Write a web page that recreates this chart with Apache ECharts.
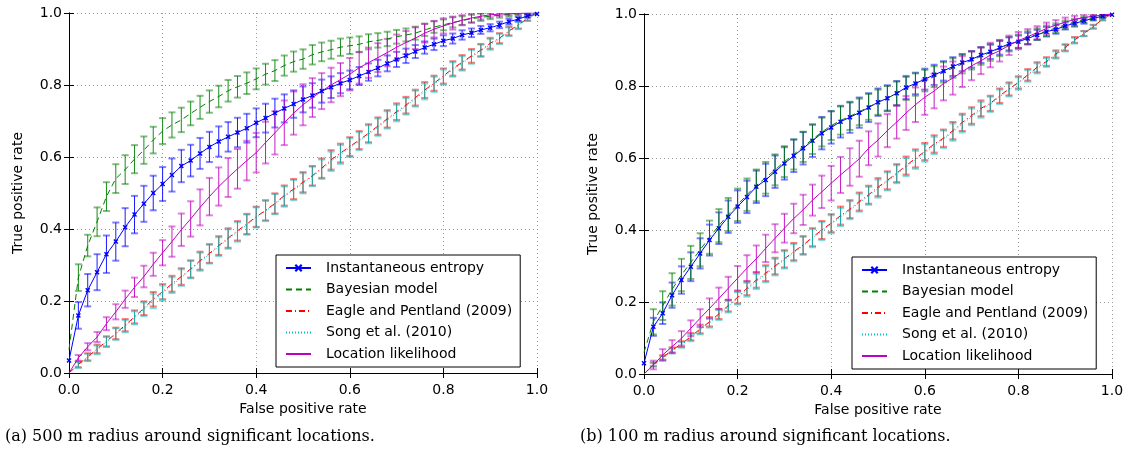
<!DOCTYPE html>
<html>
<head>
<meta charset="utf-8">
<script src="https://cdn.jsdelivr.net/npm/echarts@6/dist/echarts.min.js"></script>
<style>
  html, body { margin: 0; padding: 0; background: #fff; }
  #chart { width: 1133px; height: 454px; }
</style>
</head>
<body>
<div id="chart"></div>
<script>
// false positive rate, one point every 0.02
const fpr = [0, 0.02, 0.04, 0.06, 0.08, 0.1, 0.12, 0.14, 0.16, 0.18, 0.2, 0.22, 0.24, 0.26, 0.28, 0.3, 0.32, 0.34, 0.36, 0.38,
  0.4, 0.42, 0.44, 0.46, 0.48, 0.5, 0.52, 0.54, 0.56, 0.58, 0.6, 0.62, 0.64, 0.66, 0.68, 0.7, 0.72, 0.74, 0.76, 0.78,
  0.8, 0.82, 0.84, 0.86, 0.88, 0.9, 0.92, 0.94, 0.96, 0.98, 1.0]
const tickLabels = ['0.0', '0.2', '0.4', '0.6', '0.8', '1.0']
const names = ['Instantaneous entropy', 'Bayesian model', 'Eagle and Pentland (2009)', 'Song et al. (2010)', 'Location likelihood']
const captions = ['(a) 500 m radius around significant locations.', '(b) 100 m radius around significant locations.']

// (a) 500 m
const entropyA = [0.035, 0.16, 0.23, 0.28, 0.33, 0.365, 0.405, 0.44, 0.47, 0.5, 0.525, 0.55, 0.575, 0.59, 0.61, 0.628, 0.643, 0.656, 0.668, 0.68,
  0.695, 0.708, 0.722, 0.735, 0.747, 0.76, 0.771, 0.783, 0.794, 0.805, 0.814, 0.825, 0.836, 0.847, 0.86, 0.871, 0.881, 0.893, 0.904, 0.913,
  0.923, 0.929, 0.939, 0.945, 0.953, 0.959, 0.967, 0.976, 0.983, 0.992, 0.997]
const entropyErrA = [0, 0.037, 0.045, 0.05, 0.052, 0.053, 0.053, 0.052, 0.05, 0.048, 0.047, 0.046, 0.045, 0.044, 0.043, 0.042, 0.042, 0.041, 0.041, 0.04,
  0.04, 0.04, 0.04, 0.039, 0.038, 0.036, 0.034, 0.032, 0.03, 0.028, 0.026, 0.025, 0.024, 0.023, 0.022, 0.021, 0.02, 0.018, 0.017, 0.016,
  0.015, 0.014, 0.013, 0.012, 0.011, 0.01, 0.009, 0.008, 0.006, 0.005, 0]
const bayesA = [0.065, 0.265, 0.354, 0.42, 0.49, 0.54, 0.565, 0.594, 0.619, 0.647, 0.672, 0.689, 0.703, 0.721, 0.738, 0.754, 0.768, 0.784, 0.795, 0.805,
  0.817, 0.83, 0.84, 0.854, 0.865, 0.872, 0.884, 0.892, 0.898, 0.905, 0.909, 0.913, 0.92, 0.924, 0.928, 0.934, 0.939, 0.944, 0.953, 0.961,
  0.967, 0.974, 0.979, 0.984, 0.988, 0.991, 0.994, 0.996, 0.998, 0.999, 1.0]
const bayesErrA = [0, 0.037, 0.03, 0.04, 0.04, 0.04, 0.04, 0.039, 0.038, 0.037, 0.036, 0.035, 0.034, 0.033, 0.032, 0.031, 0.03, 0.03, 0.03, 0.03,
  0.029, 0.029, 0.029, 0.028, 0.028, 0.027, 0.027, 0.026, 0.025, 0.024, 0.023, 0.022, 0.021, 0.02, 0.02, 0.019, 0.018, 0.018, 0.017, 0.016,
  0.015, 0.014, 0.012, 0.011, 0.01, 0.008, 0.007, 0.006, 0.005, 0.004, 0]
const eagleA = [0, 0.024, 0.045, 0.067, 0.088, 0.11, 0.133, 0.156, 0.18, 0.205, 0.226, 0.248, 0.268, 0.289, 0.312, 0.332, 0.354, 0.375, 0.395, 0.414,
  0.434, 0.452, 0.471, 0.493, 0.511, 0.53, 0.548, 0.569, 0.592, 0.611, 0.629, 0.647, 0.666, 0.686, 0.706, 0.726, 0.744, 0.765, 0.786, 0.805,
  0.825, 0.846, 0.863, 0.881, 0.897, 0.916, 0.93, 0.95, 0.967, 0.985, 1.0]
const songA = [0, 0.022, 0.043, 0.064, 0.086, 0.108, 0.13, 0.153, 0.177, 0.2, 0.222, 0.244, 0.265, 0.287, 0.309, 0.33, 0.351, 0.372, 0.392, 0.412,
  0.432, 0.45, 0.469, 0.49, 0.508, 0.527, 0.546, 0.566, 0.588, 0.607, 0.626, 0.644, 0.663, 0.683, 0.703, 0.722, 0.741, 0.762, 0.782, 0.802,
  0.822, 0.843, 0.86, 0.878, 0.895, 0.913, 0.928, 0.948, 0.965, 0.984, 1.0]
const baselineErrA = [0, 0.008, 0.01, 0.012, 0.014, 0.016, 0.017, 0.018, 0.019, 0.02, 0.021, 0.022, 0.023, 0.024, 0.025, 0.026, 0.026, 0.027, 0.027, 0.028,
  0.028, 0.028, 0.028, 0.028, 0.028, 0.028, 0.027, 0.027, 0.027, 0.026, 0.026, 0.025, 0.025, 0.024, 0.024, 0.023, 0.023, 0.022, 0.022, 0.021,
  0.021, 0.02, 0.02, 0.019, 0.017, 0.015, 0.014, 0.012, 0.01, 0.006, 0]
const likelihoodA = [0, 0.042, 0.073, 0.1, 0.137, 0.17, 0.205, 0.238, 0.268, 0.302, 0.334, 0.365, 0.398, 0.428, 0.46, 0.49, 0.518, 0.543, 0.567, 0.59,
  0.612, 0.64, 0.667, 0.695, 0.722, 0.745, 0.765, 0.783, 0.8, 0.815, 0.83, 0.848, 0.862, 0.876, 0.89, 0.905, 0.918, 0.93, 0.944, 0.955,
  0.964, 0.972, 0.98, 0.986, 0.991, 0.995, 0.997, 0.998, 0.999, 1.0, 1.0]
const likelihoodErrA = [0, 0.008, 0.01, 0.014, 0.018, 0.021, 0.024, 0.027, 0.03, 0.032, 0.035, 0.042, 0.045, 0.049, 0.05, 0.052, 0.053, 0.054, 0.055, 0.055,
  0.055, 0.058, 0.06, 0.062, 0.06, 0.057, 0.054, 0.05, 0.048, 0.046, 0.045, 0.044, 0.042, 0.04, 0.038, 0.035, 0.032, 0.03, 0.026, 0.023,
  0.021, 0.018, 0.014, 0.012, 0.009, 0.007, 0.005, 0.004, 0.003, 0.002, 0]

// (b) 100 m
const entropyB = [0.03, 0.131, 0.169, 0.219, 0.261, 0.298, 0.335, 0.372, 0.405, 0.437, 0.465, 0.492, 0.52, 0.539, 0.562, 0.585, 0.606, 0.627, 0.648, 0.669,
  0.685, 0.701, 0.713, 0.726, 0.74, 0.755, 0.766, 0.78, 0.796, 0.807, 0.819, 0.831, 0.842, 0.854, 0.865, 0.874, 0.886, 0.895, 0.906, 0.917,
  0.923, 0.932, 0.942, 0.951, 0.957, 0.967, 0.974, 0.981, 0.988, 0.994, 0.998]
const entropyErrB = [0, 0.025, 0.03, 0.035, 0.038, 0.04, 0.042, 0.043, 0.044, 0.045, 0.045, 0.045, 0.045, 0.045, 0.045, 0.045, 0.045, 0.045, 0.045, 0.045,
  0.045, 0.044, 0.043, 0.042, 0.04, 0.038, 0.036, 0.034, 0.032, 0.03, 0.029, 0.028, 0.027, 0.026, 0.024, 0.023, 0.022, 0.02, 0.019, 0.018,
  0.017, 0.016, 0.014, 0.013, 0.012, 0.01, 0.009, 0.008, 0.006, 0.004, 0]
const bayesB = [0.06, 0.145, 0.19, 0.235, 0.275, 0.31, 0.345, 0.38, 0.412, 0.443, 0.47, 0.498, 0.524, 0.545, 0.567, 0.59, 0.61, 0.631, 0.652, 0.672,
  0.69, 0.704, 0.716, 0.728, 0.742, 0.755, 0.766, 0.779, 0.793, 0.804, 0.815, 0.826, 0.838, 0.85, 0.861, 0.871, 0.883, 0.893, 0.905, 0.916,
  0.924, 0.934, 0.944, 0.953, 0.961, 0.97, 0.977, 0.984, 0.99, 0.995, 0.998]
const bayesErrB = [0, 0.035, 0.04, 0.045, 0.045, 0.046, 0.046, 0.046, 0.046, 0.046, 0.045, 0.045, 0.044, 0.044, 0.043, 0.043, 0.042, 0.042, 0.041, 0.04,
  0.04, 0.039, 0.038, 0.037, 0.036, 0.035, 0.034, 0.033, 0.032, 0.031, 0.03, 0.029, 0.028, 0.027, 0.026, 0.025, 0.024, 0.023, 0.022, 0.02,
  0.019, 0.018, 0.016, 0.015, 0.013, 0.012, 0.01, 0.008, 0.006, 0.004, 0]
const eagleB = [0, 0.027, 0.046, 0.067, 0.083, 0.104, 0.125, 0.145, 0.167, 0.19, 0.213, 0.238, 0.261, 0.28, 0.3, 0.32, 0.34, 0.358, 0.38, 0.4,
  0.419, 0.44, 0.458, 0.479, 0.498, 0.519, 0.538, 0.558, 0.579, 0.599, 0.618, 0.639, 0.655, 0.676, 0.699, 0.718, 0.738, 0.752, 0.773, 0.792,
  0.81, 0.831, 0.852, 0.868, 0.889, 0.907, 0.928, 0.946, 0.965, 0.986, 1.0]
const songB = [0, 0.025, 0.044, 0.064, 0.081, 0.101, 0.122, 0.142, 0.164, 0.187, 0.21, 0.234, 0.257, 0.277, 0.297, 0.317, 0.337, 0.356, 0.377, 0.397,
  0.416, 0.436, 0.455, 0.476, 0.495, 0.515, 0.535, 0.555, 0.575, 0.595, 0.614, 0.635, 0.652, 0.672, 0.695, 0.714, 0.734, 0.749, 0.77, 0.789,
  0.807, 0.828, 0.849, 0.865, 0.886, 0.905, 0.926, 0.945, 0.964, 0.985, 1.0]
const baselineErrB = [0, 0.005, 0.006, 0.007, 0.008, 0.01, 0.012, 0.013, 0.014, 0.016, 0.017, 0.019, 0.021, 0.022, 0.023, 0.024, 0.024, 0.025, 0.025, 0.025,
  0.025, 0.025, 0.025, 0.025, 0.025, 0.025, 0.025, 0.025, 0.025, 0.025, 0.024, 0.024, 0.024, 0.024, 0.024, 0.023, 0.022, 0.021, 0.02, 0.018,
  0.017, 0.016, 0.014, 0.012, 0.01, 0.009, 0.008, 0.007, 0.005, 0.003, 0]
const likelihoodB = [0, 0.025, 0.053, 0.076, 0.099, 0.127, 0.155, 0.182, 0.21, 0.238, 0.266, 0.294, 0.32, 0.349, 0.377, 0.405, 0.432, 0.456, 0.483, 0.506,
  0.53, 0.553, 0.575, 0.598, 0.627, 0.65, 0.676, 0.7, 0.725, 0.748, 0.769, 0.786, 0.807, 0.822, 0.84, 0.856, 0.87, 0.886, 0.898, 0.913,
  0.926, 0.937, 0.948, 0.96, 0.969, 0.977, 0.985, 0.99, 0.994, 0.997, 1.0]
const likelihoodErrB = [0, 0.012, 0.016, 0.018, 0.02, 0.022, 0.025, 0.028, 0.03, 0.032, 0.034, 0.036, 0.037, 0.038, 0.039, 0.04, 0.041, 0.042, 0.043, 0.045,
  0.048, 0.05, 0.052, 0.05, 0.047, 0.046, 0.046, 0.046, 0.047, 0.048, 0.049, 0.048, 0.047, 0.046, 0.043, 0.04, 0.037, 0.034, 0.03, 0.027,
  0.024, 0.021, 0.018, 0.016, 0.014, 0.013, 0.01, 0.007, 0.005, 0.003, 0]

const colors = ['#0000ff', '#008000', '#ff0000', '#00bfbf', '#bf00bf']
const dashes = ['solid', [6, 4], [6, 3, 1, 3], [1, 2], 'solid']
const xMark = 'path://M0,2L2,0L5,3L8,0L10,2L7,5L10,8L8,10L5,7L2,10L0,8L3,5Z'
const font = 'DejaVu Sans'

const panels = [
  {vals: [entropyA, bayesA, eagleA, songA, likelihoodA], errs: [entropyErrA, bayesErrA, baselineErrA, baselineErrA, likelihoodErrA]},
  {vals: [entropyB, bayesB, eagleB, songB, likelihoodB], errs: [entropyErrB, bayesErrB, baselineErrB, baselineErrB, likelihoodErrB]}
]

function renderErr(params, api) {
  const x = api.value(0)
  const lo = api.coord([x, api.value(1)])
  const hi = api.coord([x, api.value(2)])
  const c = api.visual('color')
  const w = 3.5
  return {
    type: 'group',
    children: [
      {type: 'line', shape: {x1: lo[0], y1: lo[1], x2: hi[0], y2: hi[1]}, style: {stroke: c, lineWidth: 1, opacity: 0.9}},
      {type: 'line', shape: {x1: lo[0] - w, y1: lo[1], x2: lo[0] + w, y2: lo[1]}, style: {stroke: c, lineWidth: 2, opacity: 0.5}},
      {type: 'line', shape: {x1: hi[0] - w, y1: hi[1], x2: hi[0] + w, y2: hi[1]}, style: {stroke: c, lineWidth: 2, opacity: 0.5}}
    ]
  }
}

const grids = [
  {left: 69, top: 13, width: 468, height: 360},
  {left: 644, top: 14, width: 468, height: 360}
]

let xAxes = []
let yAxes = []
let series = []
let graphics = []

const axisBase = {
  type: 'value', min: 0, max: 1, interval: 0.2,
  axisLine: {show: true, lineStyle: {color: '#000', width: 1}},
  axisTick: {show: true, inside: true, length: 5, lineStyle: {color: '#000'}},
}

for (let g = 0; g < 2; g++) {
  xAxes.push(Object.assign({}, axisBase, {
    gridIndex: g, position: 'bottom',
    name: 'False positive rate', nameLocation: 'middle', nameGap: 29,
    nameTextStyle: {fontFamily: font, fontSize: 14, color: '#000'},
    axisLabel: {margin: 10, fontFamily: font, fontSize: 14, color: '#000', formatter: (v) => tickLabels[Math.round(v * 5)]},
    splitLine: {show: true, lineStyle: {color: '#999', type: [1, 3]}}
  }))
  xAxes.push(Object.assign({}, axisBase, {gridIndex: g, position: 'top', axisLabel: {show: false}, splitLine: {show: false}}))
  yAxes.push(Object.assign({}, axisBase, {
    gridIndex: g, position: 'left',
    name: 'True positive rate', nameLocation: 'middle', nameGap: 44,
    nameTextStyle: {fontFamily: font, fontSize: 14, color: '#000'},
    axisLabel: {margin: 7, fontFamily: font, fontSize: 14, color: '#000', formatter: (v) => tickLabels[Math.round(v * 5)]},
    splitLine: {show: true, lineStyle: {color: '#999', type: [1, 3]}}
  }))
  yAxes.push(Object.assign({}, axisBase, {gridIndex: g, position: 'right', axisLabel: {show: false}, splitLine: {show: false}}))

  const p = panels[g]
  for (let s = 0; s < 5; s++) {
    const vals = p.vals[s]
    const errs = p.errs[s]
    series.push({
      name: names[s] + ' err ' + g,
      type: 'custom',
      xAxisIndex: 2 * g, yAxisIndex: 2 * g,
      renderItem: renderErr,
      clip: true,
      itemStyle: {color: colors[s]},
      data: fpr.map((x, i) => [x, vals[i] - errs[i], vals[i] + errs[i]]).filter((d, i) => errs[i] > 0),
      z: 2
    })
    series.push({
      name: names[s],
      type: 'line',
      xAxisIndex: 2 * g, yAxisIndex: 2 * g,
      data: fpr.map((x, i) => [x, vals[i]]),
      symbol: s === 0 ? xMark : 'none',
      symbolSize: 5,
      showSymbol: s === 0,
      itemStyle: {color: colors[s]},
      lineStyle: {color: colors[s], width: 1, type: dashes[s]},
      clip: true,
      z: 3
    })
  }
  graphics.push({
    type: 'text', left: g === 0 ? 5 : 580, top: 429,
    style: {text: captions[g], fontFamily: 'DejaVu Serif', fontSize: 16, fill: '#000'}
  })
}

// only the entropy curve has markers; hide the default legend dot for the others
const legendData = names.map((n, i) => i === 0 ? {name: n} : {name: n, itemStyle: {opacity: 0}})

const legendBase = {
  orient: 'vertical',
  data: legendData,
  itemWidth: 25, itemHeight: 10, itemGap: 7.5,
  padding: [6, 8, 6, 9],
  backgroundColor: '#fff',
  borderColor: '#000', borderWidth: 1, borderRadius: 0,
  textStyle: {fontFamily: font, fontSize: 14, color: '#000', padding: [0, 0, 0, 10]},
  selectedMode: false
}

const option = {
  animation: false,
  backgroundColor: '#fff',
  grid: grids,
  xAxis: xAxes,
  yAxis: yAxes,
  legend: [
    Object.assign({}, legendBase, {left: 276, top: 255}),
    Object.assign({}, legendBase, {left: 852, top: 257})
  ],
  graphic: graphics,
  series: series
}

const chart = echarts.init(document.getElementById('chart'))
chart.setOption(option)
</script>
</body>
</html>
